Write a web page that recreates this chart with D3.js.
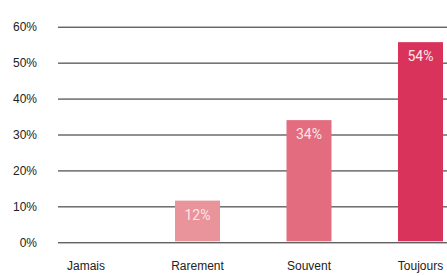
<!DOCTYPE html>
<html><head><meta charset="utf-8">
<script src="https://cdn.jsdelivr.net/npm/d3@7"></script>
<style>body{margin:0;background:#fff}svg{display:block}</style>
</head><body>
<script>
const categories = ["Jamais", "Rarement", "Souvent", "Toujours"];
const values = [0, 11.6, 34, 55.7];
const valueLabels = ["", "12%", "34%", "54%"];
const barColors = ["#ef9aa2", "#e9939a", "#e36c7e", "#d9335c"];
const yTicks = [0, 10, 20, 30, 40, 50, 60];

const W = 447, H = 276;
const svg = d3.select("body").append("svg").attr("width", W).attr("height", H);

const y = d3.scaleLinear().domain([0, 60]).range([242.3, 26.7]);
const x = d3.scaleBand().domain(categories).range([30.25, 476.25])
  .paddingInner(1 - 45 / 111.5).paddingOuter((1 - 45 / 111.5) / 2);

// gridlines
const yAxis = d3.axisLeft(y).tickValues(yTicks).tickSize(-(W - 58)).tickFormat(d => d + "%");
const gy = svg.append("g").attr("transform", "translate(58,0)").call(yAxis);
gy.select(".domain").remove();
gy.selectAll(".tick line").attr("stroke", "#222").attr("stroke-width", 1);
gy.selectAll(".tick text").attr("x", -21).attr("dy", "0.32em")
  .attr("font-family", "'Liberation Sans', Arial, sans-serif").attr("font-size", 12).attr("fill", "#222");

// bars
svg.selectAll("rect.bar").data(categories).enter().append("rect")
  .attr("class", "bar")
  .attr("x", d => x(d))
  .attr("width", x.bandwidth())
  .attr("y", (d, i) => y(values[i]))
  .attr("height", (d, i) => y(0) - y(values[i]) - 1)
  .attr("fill", (d, i) => barColors[i]);

// value labels
svg.selectAll("text.val").data(categories).enter().append("text")
  .attr("class", "val")
  .attr("x", d => x(d) + x.bandwidth() / 2)
  .attr("y", (d, i) => y(values[i]) + 19)
  .attr("text-anchor", "middle")
  .attr("font-family", "Roboto, sans-serif")
  .attr("font-weight", 400)
  .attr("font-size", 14)
  .attr("fill", "#fde6ea")
  .text((d, i) => valueLabels[i]);

// category axis
const xAxis = d3.axisBottom(x).tickSize(0);
const gx = svg.append("g").attr("transform", "translate(0,258)").call(xAxis);
gx.select(".domain").remove();
gx.selectAll(".tick text").attr("dy", "0.71em")
  .attr("font-family", "'Liberation Sans', Arial, sans-serif").attr("font-size", 12).attr("fill", "#222");
</script>
</body></html>
